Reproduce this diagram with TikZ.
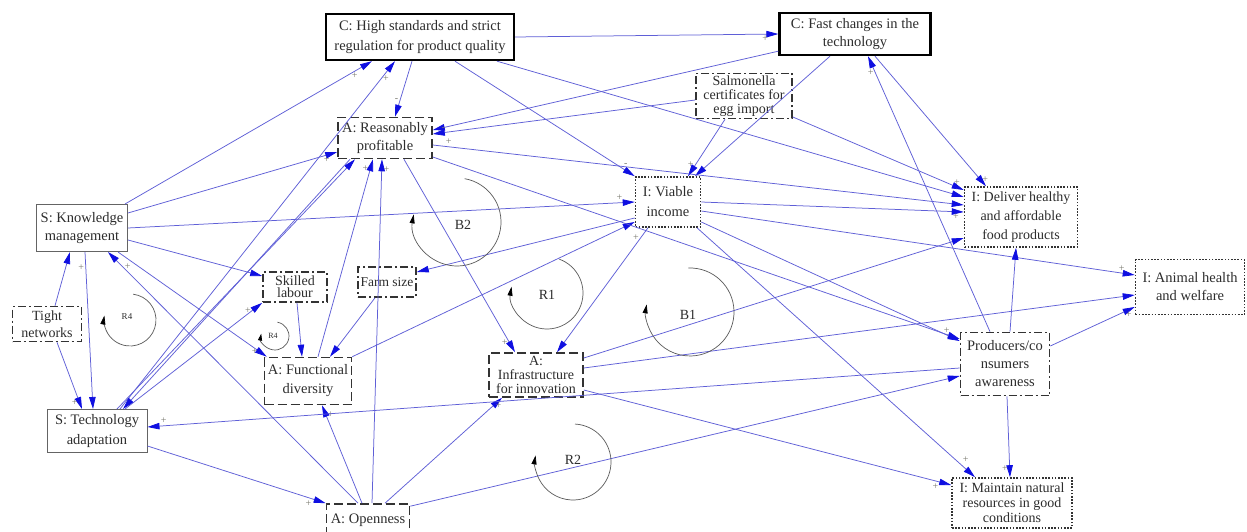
\documentclass[tikz,border=0pt]{standalone}
\usepackage{fontspec}
\setmainfont{Liberation Serif}
\usetikzlibrary{arrows.meta}

\definecolor{edgeblue}{RGB}{95,95,215}
\definecolor{tipblue}{RGB}{15,15,225}
\definecolor{txtgray}{RGB}{45,45,45}
\definecolor{boxgray}{RGB}{100,100,100}
\definecolor{signgray}{RGB}{120,120,110}
\definecolor{loopgray}{RGB}{90,90,90}

\begin{document}
\begin{tikzpicture}[x=1pt, y=1pt]

\tikzset{
  BoxStyle/.style = { rectangle, align=center, inner sep=0pt, text=txtgray,
                      font=\fontsize{14.5}{18}\selectfont },
  CtxStyle/.style = { BoxStyle, draw=black, line width=2.4pt },
  SysStyle/.style = { BoxStyle, draw=boxgray, line width=1pt },
  AttrStyle/.style = { BoxStyle, draw=black!80, line width=1.6pt,
                       dash pattern=on 9pt off 4pt },
  IndStyle/.style = { BoxStyle, draw=black!80, line width=1.6pt,
                      dash pattern=on 1.6pt off 1.6pt },
  FacStyle/.style = { BoxStyle, draw=black!80, line width=1.6pt,
                      dash pattern=on 8pt off 3pt on 2pt off 3pt },
  EdgeStyle/.style = { draw=edgeblue, line width=0.75pt,
                       -{Triangle[length=12pt, width=6.5pt, color=tipblue]} },
  SignStyle/.style = { font=\fontsize{10}{10}\selectfont, text=signgray, inner sep=1.5pt },
  LoopStyle/.style = { draw=loopgray, line width=0.7pt,
                       -{Triangle[length=9pt, width=5pt, color=black]} },
  LoopLabel/.style = { font=\fontsize{14}{14}\selectfont, text=txtgray } }

  \useasboundingbox (0,0) rectangle (1247,531);
  \fill[white] (0,0) rectangle (1247,531);
  \clip (0,0) rectangle (1247,531);

  \node[CtxStyle, minimum width=188pt, minimum height=46pt, font=\fontsize{14.5}{20}\selectfont]
    (hs) at (420, 494) {C: High standards and strict\\regulation for product quality};
  \node[CtxStyle, minimum width=151pt, minimum height=42pt]
    (fc) at (855, 497) {C: Fast changes in the\\technology};
  \node[FacStyle, minimum width=96pt, minimum height=45pt, font=\fontsize{14}{14}\selectfont]
    (sc) at (744, 435) {Salmonella\\certificates for\\egg import};

  \node[AttrStyle, minimum width=94pt, minimum height=41pt]
    (rp) at (385, 393) {A: Reasonably\\profitable};
  \node[IndStyle, minimum width=65pt, minimum height=50pt, font=\fontsize{14.5}{20}\selectfont]
    (vi) at (668, 329) {I: Viable\\income};
  \node[IndStyle, minimum width=113pt, minimum height=60pt, font=\fontsize{14}{19}\selectfont]
    (dh) at (1021, 314) {I: Deliver healthy\\and affordable\\food products};

  \node[SysStyle, minimum width=91pt, minimum height=47pt]
    (km) at (82, 303) {S: Knowledge\\management};
  \node[FacStyle, minimum width=64pt, minimum height=30pt, font=\fontsize{14}{12}\selectfont]
    (sl) at (295, 244) {Skilled\\labour};
  \node[FacStyle, minimum width=58pt, minimum height=30pt, font=\fontsize{13.5}{14}\selectfont]
    (fs) at (387, 249) {Farm size};
  \node[FacStyle, minimum width=69pt, minimum height=35pt, font=\fontsize{14}{17}\selectfont]
    (tn) at (47, 207) {Tight\\networks};
  \node[IndStyle, minimum width=109pt, minimum height=55pt]
    (ah) at (1190, 244) {I: Animal health\\and welfare};

  \node[AttrStyle, minimum width=87pt, minimum height=47pt, font=\fontsize{14.5}{19}\selectfont]
    (fd) at (308, 150) {A: Functional\\diversity};
  \node[AttrStyle, minimum width=94pt, minimum height=44pt, font=\fontsize{14}{14}\selectfont]
    (ii) at (536, 156) {A:\\Infrastructure\\for innovation};
  \node[FacStyle, minimum width=89pt, minimum height=63pt]
    (pa) at (1005, 167) {Producers/co\\nsumers\\awareness};
  \node[SysStyle, minimum width=100pt, minimum height=43pt, font=\fontsize{14.5}{20}\selectfont]
    (ta) at (97, 100) {S: Technology\\adaptation};
  \node[AttrStyle, minimum width=83pt, minimum height=32pt]
    (op) at (368, 11) {A: Openness};
  \node[IndStyle, minimum width=120pt, minimum height=50pt, font=\fontsize{14}{15}\selectfont]
    (mn) at (1012, 28) {I: Maintain natural\\resources in good\\conditions};

  \draw[EdgeStyle] (hs.east) -- node[SignStyle, pos=0.95, below]{+} (fc.west);
  \draw[EdgeStyle] ([xshift=-8pt]hs.south) -- node[SignStyle, pos=0.7, left]{-} ([xshift=10pt]rp.north);
  \draw[EdgeStyle] ([xshift=35pt]hs.south) -- node[SignStyle, pos=0.93, above right]{-} (vi.north west);
  \draw[EdgeStyle] ([xshift=77pt]hs.south) -- ([yshift=20pt]dh.west);
  \draw[EdgeStyle] ([yshift=5pt]fc.south west) -- ([yshift=8pt]rp.east);
  \draw[EdgeStyle] ([yshift=-4pt]sc.west) -- node[SignStyle, pos=0.96, above]{-} ([yshift=4pt]rp.east);
  \draw[EdgeStyle] ([yshift=-21pt]sc.east) -- node[SignStyle, pos=0.96, above]{+} ([yshift=27pt]dh.west);
  \draw[EdgeStyle] ([xshift=-25pt]fc.south) -- ([xshift=27pt]vi.north);
  \draw[EdgeStyle] ([xshift=-19pt]sc.south) -- node[SignStyle, pos=0.8, left]{+} ([xshift=20pt]vi.north);
  \draw[EdgeStyle] ([xshift=20pt]fc.south) -- node[SignStyle, pos=0.95, right]{+} ([xshift=-35pt]dh.north);
  \draw[EdgeStyle] ([xshift=-15pt]pa.north) -- node[SignStyle, pos=0.94, left]{+} ([xshift=13pt]fc.south);

  \draw[EdgeStyle] ([xshift=-3pt]km.north east) -- node[SignStyle, pos=0.93, below]{+} ([xshift=-48pt]hs.south);
  \draw[EdgeStyle] ([yshift=15pt]km.east) -- node[SignStyle, pos=0.95, below]{+} ([yshift=-14pt]rp.west);
  \draw[EdgeStyle] (km.east) -- node[SignStyle, pos=0.97, above]{+} (vi.west);
  \draw[EdgeStyle] ([yshift=-12pt]km.east) -- ([yshift=11pt]sl.west);
  \draw[EdgeStyle] ([xshift=-10pt]km.south east) -- node[SignStyle, pos=0.95, left]{+} ([xshift=3pt]fd.north west);
  \draw[EdgeStyle] ([xshift=3pt]km.south) -- node[SignStyle, pos=0.1, left]{+} ([xshift=-4pt]ta.north);
  \draw[EdgeStyle] ([xshift=8pt]tn.north) -- ([xshift=-12pt]km.south);
  \draw[EdgeStyle] ([xshift=10pt]tn.south) -- node[SignStyle, pos=0.9, left]{+} ([xshift=-15pt]ta.north);
  \draw[EdgeStyle] ([xshift=-10pt]op.north) -- node[SignStyle, pos=0.94, right]{+} ([xshift=26pt]km.south);

  \draw[EdgeStyle] ([xshift=23pt]ta.north) -- node[SignStyle, pos=0.95, right]{+} ([xshift=-25pt]hs.south);
  \draw[EdgeStyle] ([xshift=20pt]ta.north) -- ([xshift=-30pt]rp.south);
  \draw[EdgeStyle] ([xshift=-35pt]rp.south) -- ([xshift=26pt]ta.north);
  \draw[EdgeStyle] ([xshift=28pt]ta.north) -- node[SignStyle, pos=0.93, left]{+} (sl.south west);
  \draw[EdgeStyle] ([yshift=-15pt]ta.east) -- node[SignStyle, pos=0.93, below left]{+} (op.north west);

  \draw[EdgeStyle] ([xshift=2pt]sl.south) -- ([xshift=-6pt]fd.north);
  \draw[EdgeStyle] ([xshift=-12pt]fs.south) -- ([xshift=22pt]fd.north);
  \draw[EdgeStyle] ([xshift=10pt]fd.north) -- node[SignStyle, pos=0.95, left]{+} ([xshift=-12pt]rp.south);
  \draw[EdgeStyle] ([xshift=4pt]op.north) -- node[SignStyle, pos=0.97, right]{+} ([xshift=-3pt]rp.south);
  \draw[EdgeStyle] (fd.north east) -- ([yshift=-20pt]vi.west);
  \draw[EdgeStyle] ([xshift=-6pt]op.north) -- node[SignStyle, pos=0.9, right]{+} ([xshift=14pt]fd.south);
  \draw[EdgeStyle] ([xshift=17pt]op.north) -- node[SignStyle, pos=0.93, right]{+} ([xshift=-34pt]ii.south);
  \draw[EdgeStyle] ([yshift=-3pt]op.north east) -- ([yshift=-12pt]pa.west);
  \draw[EdgeStyle] ([yshift=-4pt]pa.west) -- node[SignStyle, pos=0.98, above]{+} ([yshift=4pt]ta.east);

  \draw[EdgeStyle] ([xshift=19pt]rp.south) -- node[SignStyle, pos=0.95, left]{+} ([xshift=-21pt]ii.north);
  \draw[EdgeStyle] ([xshift=-20pt]vi.south) -- node[SignStyle, pos=0.08, left]{+} ([xshift=21pt]ii.north);
  \draw[EdgeStyle] ([yshift=-7pt]rp.east) -- node[SignStyle, pos=0.03, above]{+} ([yshift=12pt]dh.west);
  \draw[EdgeStyle] ([yshift=-19pt]rp.east) -- ([yshift=25pt]pa.west);
  \draw[EdgeStyle] ([yshift=-16pt]vi.west) -- ([yshift=10pt]fs.east);

  \draw[EdgeStyle] (vi.east) -- node[SignStyle, pos=0.97, below]{+} ([yshift=5pt]dh.west);
  \draw[EdgeStyle] ([yshift=-9pt]vi.east) -- node[SignStyle, pos=0.97, above]{+} ([yshift=12pt]ah.west);
  \draw[EdgeStyle] ([yshift=-20pt]vi.east) -- node[SignStyle, pos=0.95, above]{+} ([yshift=23pt]pa.west);
  \draw[EdgeStyle] ([xshift=29pt]vi.south) -- node[SignStyle, pos=0.95, above right]{+} ([xshift=-37pt]mn.north);
  \draw[EdgeStyle] ([yshift=17pt]ii.east) -- ([yshift=-21pt]dh.west);
  \draw[EdgeStyle] ([yshift=7pt]ii.east) -- ([yshift=-8pt]ah.west);
  \draw[EdgeStyle] ([yshift=-15pt]ii.east) -- node[SignStyle, pos=0.97, below left]{+} ([yshift=18pt]mn.west);
  \draw[EdgeStyle] ([yshift=18pt]pa.east) -- node[SignStyle, pos=0.93, below]{+} ([yshift=-20pt]ah.west);
  \draw[EdgeStyle] ([xshift=5pt]pa.north) -- ([xshift=-5pt]dh.south);
  \draw[EdgeStyle] ([xshift=2pt]pa.south) -- node[SignStyle, pos=0.9, left]{+} ([xshift=-2pt]mn.north);

  \draw[LoopStyle] (457,309) ++(80:44pt) arc[start angle=80, end angle=-190, radius=44pt];
  \node[LoopLabel] (b2) at (463,306) {B2};
  \draw[LoopStyle] (547,238) ++(70:36pt) arc[start angle=70, end angle=-190, radius=36pt];
  \node[LoopLabel] (r1) at (547,236) {R1};
  \draw[LoopStyle] (690,219) ++(92:44pt) arc[start angle=92, end angle=-190, radius=44pt];
  \node[LoopLabel] (b1) at (688,216) {B1};
  \draw[LoopStyle] (573,69) ++(87:38pt) arc[start angle=87, end angle=-190, radius=38pt];
  \node[LoopLabel] (r2) at (573,71) {R2};
  \draw[LoopStyle] (130,211) ++(83:26pt) arc[start angle=83, end angle=-190, radius=26pt];
  \node[LoopLabel, font=\fontsize{9}{9}\selectfont] (r4a) at (127,214) {R4};
  \draw[LoopStyle, -{Triangle[length=7pt, width=4pt, color=black]}]
    (275,195) ++(80:14pt) arc[start angle=80, end angle=-190, radius=14pt];
  \node[LoopLabel, font=\fontsize{8}{8}\selectfont] (r4b) at (273,195) {R4};

\end{tikzpicture}
\end{document}
